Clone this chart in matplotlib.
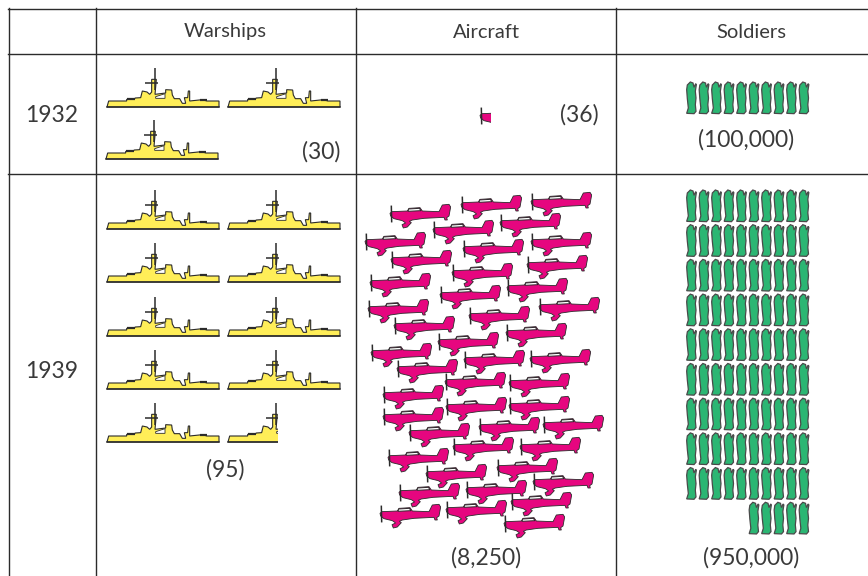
import numpy as np
import matplotlib
matplotlib.use("Agg")
import matplotlib.pyplot as plt
from matplotlib.patches import Polygon, Rectangle

plt.rcParams['font.family'] = ['Lato', 'DejaVu Sans']

categories = ["Warships", "Aircraft", "Soldiers"]
years = ["1932", "1939"]
warships = [30, 95]
aircraft = [36, 8250]
soldiers = [100000, 950000]

# one drawn symbol stands for this many
SHIP_UNIT = 10
PLANE_UNIT = 8250 / 45
SOLDIER_UNIT = 10000

INK = "#2b2b2b"
TEXT = "#3a3a3a"
YELLOW = "#FFEE58"
PINK = "#E6067F"
GREEN = "#2BB673"

# outlines in zoomed-up pixels (3x), scaled down when drawn
SHIP_HULL = [(0, 0), (5, 18), (59, 18), (59, 23), (81, 23), (85, 27), (101, 28), (106, 48), (120, 45), (128, 38),
             (134, 45), (134, 83), (148, 83), (146, 60), (144, 38), (176, 42), (176, 52), (194, 51), (196, 36),
             (202, 25), (218, 25), (226, 11), (236, 11), (232, 28), (242, 28), (244, 48), (248, 48), (248, 18),
             (286, 22), (300, 18), (336, 18), (336, 0)]
SHIP_WINDOW = [(146, 26), (174, 26), (174, 40), (146, 31)]
SHIP_MAST = [(144, 50), (144, 118)]
SHIP_YARD = [(114, 73), (154, 73)]
SHIP_BARS = [[(60, 23), (83, 23)], [(278, 21), (300, 21)]]
SHIP_W = 336 / 3

PLANE_BODY = [(18, 47), (24, 42), (70, 40), (75, 32), (108, 30), (115, 40), (165, 42), (175, 22), (195, 20), (200, 28),
              (195, 55), (188, 60), (190, 67), (183, 67), (180, 59), (120, 62), (85, 67), (76, 71), (82, 75), (70, 88),
              (58, 91), (54, 81), (65, 76), (55, 69), (30, 63), (20, 55)]
PLANE_GLASS = [(74, 34), (106, 32), (111, 39), (72, 41)]
PLANE_PROP = [(22, 26), (23, 72)]
PLANE_MID = (108, 55)
PLANE_W = 184 / 3

SOLDIER_BODY = [(21, 31), (30, 22), (38, 25), (41, 38), (46, 27), (48, 30), (45, 50), (47, 70), (45, 90), (47, 110),
                (41, 117), (19, 116), (24, 100), (21, 72), (19, 45)]

# hand placed plane centres for the loose 1939 cluster
PLANE_SPOTS = [(420, 216), (491, 207), (561, 204), (463, 232), (530, 225), (395, 244), (493, 251), (561, 244),
               (421, 262), (482, 275), (557, 267), (400, 285), (537, 290), (470, 297), (398, 311), (569, 309),
               (499, 318), (424, 328), (536, 335), (468, 344), (401, 355), (494, 362), (560, 361), (427, 371),
               (475, 384), (539, 385), (413, 397), (476, 409), (539, 408), (413, 419), (509, 429), (573, 427),
               (439, 435), (483, 449), (550, 449), (418, 460), (456, 476), (527, 470), (563, 484), (429, 495),
               (496, 492), (541, 504), (410, 516), (476, 512), (534, 526)]


def draw_ship(ax, x, y, part=1.0):
    flip = lambda pts: np.array(pts) / 3 * [1, -1] + [x, y]
    clip = Rectangle((x - 1, y - 45), part * 100 + 1 if part < 1 else SHIP_W + 3, 50, transform=ax.transData)
    items = [Polygon(flip(SHIP_HULL), fc=YELLOW, ec=INK, lw=0.8),
             Polygon(flip(SHIP_WINDOW), fc="white", ec=INK, lw=0.6)]
    for it in items:
        ax.add_patch(it)
        it.set_clip_path(clip)
    segs = [(SHIP_MAST, 1.1), (SHIP_YARD, 1.1)] + [(b, 1.6) for b in SHIP_BARS]
    for seg, lw in segs:
        pts = flip(seg)
        line, = ax.plot(pts[:, 0], pts[:, 1], color=INK, lw=lw, solid_capstyle="butt")
        line.set_clip_path(clip)
    base, = ax.plot([x, x + SHIP_W], [y, y], color=INK, lw=1.1)
    base.set_clip_path(clip)


def draw_plane(ax, x, y, part=1.0):
    body = (np.array(PLANE_BODY) - PLANE_MID) / 3 + [x, y]
    glass = (np.array(PLANE_GLASS) - PLANE_MID) / 3 + [x, y]
    prop = (np.array(PLANE_PROP) - PLANE_MID) / 3 + [x, y]
    left = x - PLANE_W / 2
    clip = Rectangle((left - 1, y - 20), part * PLANE_W + 1, 40, transform=ax.transData)
    p1 = Polygon(body, fc=PINK, ec=INK, lw=0.6)
    p2 = Polygon(glass, fc="white", ec=INK, lw=0.7)
    for it in (p1, p2):
        ax.add_patch(it)
        it.set_clip_path(clip)
    line, = ax.plot(prop[:, 0], prop[:, 1], color=INK, lw=1.1)
    line.set_clip_path(clip)


def draw_soldier(ax, x, y):
    # x is the left edge, y the top edge
    body = (np.array(SOLDIER_BODY) - (20, 22)) / 3 + [x, y]
    ax.add_patch(Polygon(body, fc=GREEN, ec="#4a4a4a", lw=0.9))


def ship_block(ax, value, slots):
    n = value / SHIP_UNIT
    for i, (x, y) in enumerate(slots):
        if i < int(n):
            draw_ship(ax, x, y)
        elif i < n:
            draw_ship(ax, x, y, part=n - int(n))


def soldier_block(ax, value, x0, y0, row_gap):
    n = int(value / SOLDIER_UNIT)
    rows = int(np.ceil(n / 10))
    for r in range(rows):
        count = n - r * 10 if r == rows - 1 else 10
        for c in range(10 - count, 10):
            draw_soldier(ax, x0 + c * 12.5, y0 + r * row_gap)


fig = plt.figure(figsize=(8.68, 5.76), dpi=100)
ax = fig.add_axes([0, 0, 1, 1])
ax.set_xlim(0, 868)
ax.set_ylim(576, 0)
ax.axis("off")

# table grid
for y in (8.5, 53.5, 173.5):
    ax.plot([8, 868], [y, y], color=INK, lw=1.0)
for x in (8.5, 95.5, 355.5, 615.5):
    ax.plot([x, x], [8, 576], color=INK, lw=1.0)

NUM_SIZE = 16.5
for name, x in zip(categories, (225, 486, 751)):
    ax.text(x, 32, name, ha="center", va="center", fontsize=14.5, color=TEXT)
for year, y in zip(years, (115, 372)):
    ax.text(52, y, year, ha="center", va="center", fontsize=NUM_SIZE, color=TEXT)

# 1932
ship_block(ax, warships[0], [(107, 107), (228, 107), (106, 159)])
draw_plane(ax, 510, 118, part=aircraft[0] / PLANE_UNIT)
soldier_block(ax, soldiers[0], 687, 82, 35)
ax.text(321, 152, f"({warships[0]})", ha="center", va="center", fontsize=NUM_SIZE, color=TEXT)
ax.text(579, 115, f"({aircraft[0]})", ha="center", va="center", fontsize=NUM_SIZE, color=TEXT)
ax.text(746, 140, f"({soldiers[0]:,})", ha="center", va="center", fontsize=NUM_SIZE, color=TEXT)

# 1939
slots = []
for y in (229, 282, 336, 389, 442):
    slots += [(107, y), (228, y)]
ship_block(ax, warships[1], slots)
n_planes = int(round(aircraft[1] / PLANE_UNIT))
for x, y in PLANE_SPOTS[:n_planes]:
    draw_plane(ax, x, y)
soldier_block(ax, soldiers[1], 687, 190, 34.7)
ax.text(225, 470, f"({warships[1]})", ha="center", va="center", fontsize=NUM_SIZE, color=TEXT)
ax.text(486, 558, f"({aircraft[1]:,})", ha="center", va="center", fontsize=NUM_SIZE, color=TEXT)
ax.text(751, 558, f"({soldiers[1]:,})", ha="center", va="center", fontsize=NUM_SIZE, color=TEXT)

fig.savefig("out.png", dpi=100)
